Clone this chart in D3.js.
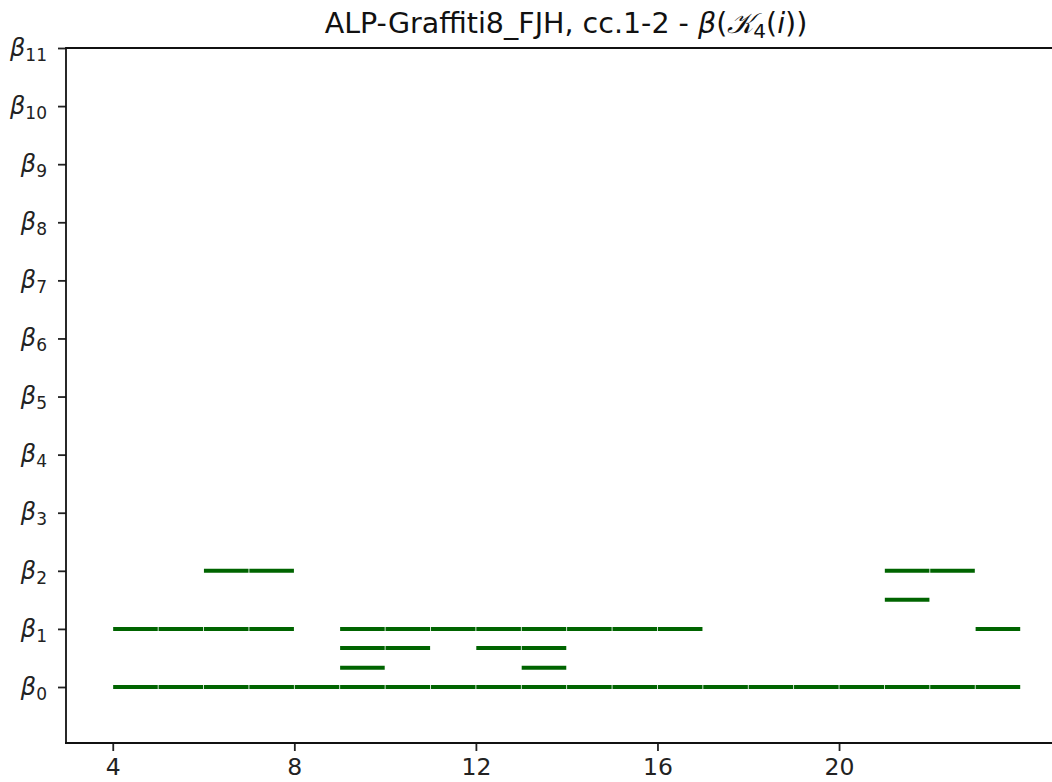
<!DOCTYPE html>
<html>
<head>
<meta charset="utf-8">
<title>Barcode</title>
<script src="https://cdn.jsdelivr.net/npm/d3@7"></script>
<style>
  body { margin: 0; background: #fff; }
  text { font-family: "DejaVu Sans", sans-serif; }
</style>
</head>
<body>
<div id="chart"></div>
<script>
// Intervalle [start, end, level] je Betti-Zahl
var beta0Bars = [[4, 24, 0]];
var beta1Bars = [[4, 8, 1], [9, 17, 1], [23, 24, 1], [9, 11, 0.67], [12, 14, 0.67], [9, 10, 0.33], [13, 14, 0.33]];
var beta2Bars = [[6, 8, 2], [21, 23, 2], [21, 22, 1.5]];
var xTicks = [4, 8, 12, 16, 20];
var yTicks = [0, 1, 2, 3, 4, 5, 6, 7, 8, 9, 10, 11];

var width = 1052, height = 782;
// rechter Rand liegt ausserhalb des Bildes
var margin = { top: 48, right: -14, bottom: 39, left: 66 };

var x = d3.scaleLinear()
  .domain([2.97, 25.0])
  .range([margin.left, width - margin.right]);
var y = d3.scaleLinear()
  .domain([-0.964, 11])
  .range([height - margin.bottom, margin.top]);

var svg = d3.select('#chart').append('svg')
  .attr('width', width)
  .attr('height', height);

// jede Einheit als eigenes Segment zeichnen
var segs = [];
beta0Bars.concat(beta1Bars, beta2Bars).forEach(function (b) {
  for (var i = b[0]; i < b[1]; i++) segs.push({ a: i, b: i + 1, lvl: b[2] });
});

svg.append('g').selectAll('line')
  .data(segs)
  .enter().append('line')
    .attr('x1', function (d) { return x(d.a) + 0.4; })
    .attr('x2', function (d) { return x(d.b) - 0.4; })
    .attr('y1', function (d) { return y(d.lvl); })
    .attr('y2', function (d) { return y(d.lvl); })
    .attr('stroke', '#006400')
    .attr('stroke-width', 4);

// Achsen
var xAxis = d3.axisBottom(x).tickValues(xTicks).tickSize(8).tickPadding(7).tickFormat(d3.format('d'));
var gx = svg.append('g')
  .attr('transform', 'translate(0,' + (height - margin.bottom) + ')')
  .call(xAxis);
gx.select('.domain').remove();
gx.selectAll('text').attr('font-size', 23.5).attr('fill', '#222');
gx.selectAll('line').attr('stroke', '#222').attr('stroke-width', 1.8);

var yAxis = d3.axisLeft(y).tickValues(yTicks).tickSize(8).tickFormat('');
var gy = svg.append('g')
  .attr('transform', 'translate(' + margin.left + ',0)')
  .call(yAxis);
gy.select('.domain').remove();
gy.selectAll('line').attr('stroke', '#222').attr('stroke-width', 1.8);

gy.selectAll('.tick').append('text')
  .attr('x', -19)
  .attr('dy', '0.3em')
  .attr('text-anchor', 'end')
  .attr('font-size', 24)
  .attr('fill', '#222')
  .each(function (d) {
    var t = d3.select(this);
    t.append('tspan').attr('font-style', 'italic').text('β');
    t.append('tspan').attr('font-size', 17).attr('dy', 5).text(d);
  });

// Rahmenlinien
var frame = svg.append('g').attr('stroke', '#111').attr('stroke-width', 1.8).attr('fill', 'none');
frame.append('line').attr('x1', margin.left).attr('x2', width).attr('y1', y(11)).attr('y2', y(11));
frame.append('line').attr('x1', margin.left - 1).attr('x2', width).attr('y1', y(-0.964)).attr('y2', y(-0.964));
frame.append('line').attr('x1', margin.left).attr('x2', margin.left).attr('y1', y(11) - 1).attr('y2', y(-0.964));

// Titel
var title = svg.append('text')
  .attr('x', (margin.left + width - margin.right) / 2)
  .attr('y', 33)
  .attr('text-anchor', 'middle')
  .attr('font-size', 28.5)
  .attr('fill', '#111');
title.append('tspan').text('ALP-Graffiti8_FJH, cc.1-2 - ');
title.append('tspan').attr('font-style', 'italic').text('β');
title.append('tspan').text('(');
title.append('tspan').attr('font-style', 'italic').text('𝒦');
title.append('tspan').attr('font-size', 20).attr('dy', 5).text('4');
title.append('tspan').attr('dy', -5).text('(');
title.append('tspan').attr('font-style', 'italic').text('i');
title.append('tspan').text('))');
</script>
</body>
</html>
